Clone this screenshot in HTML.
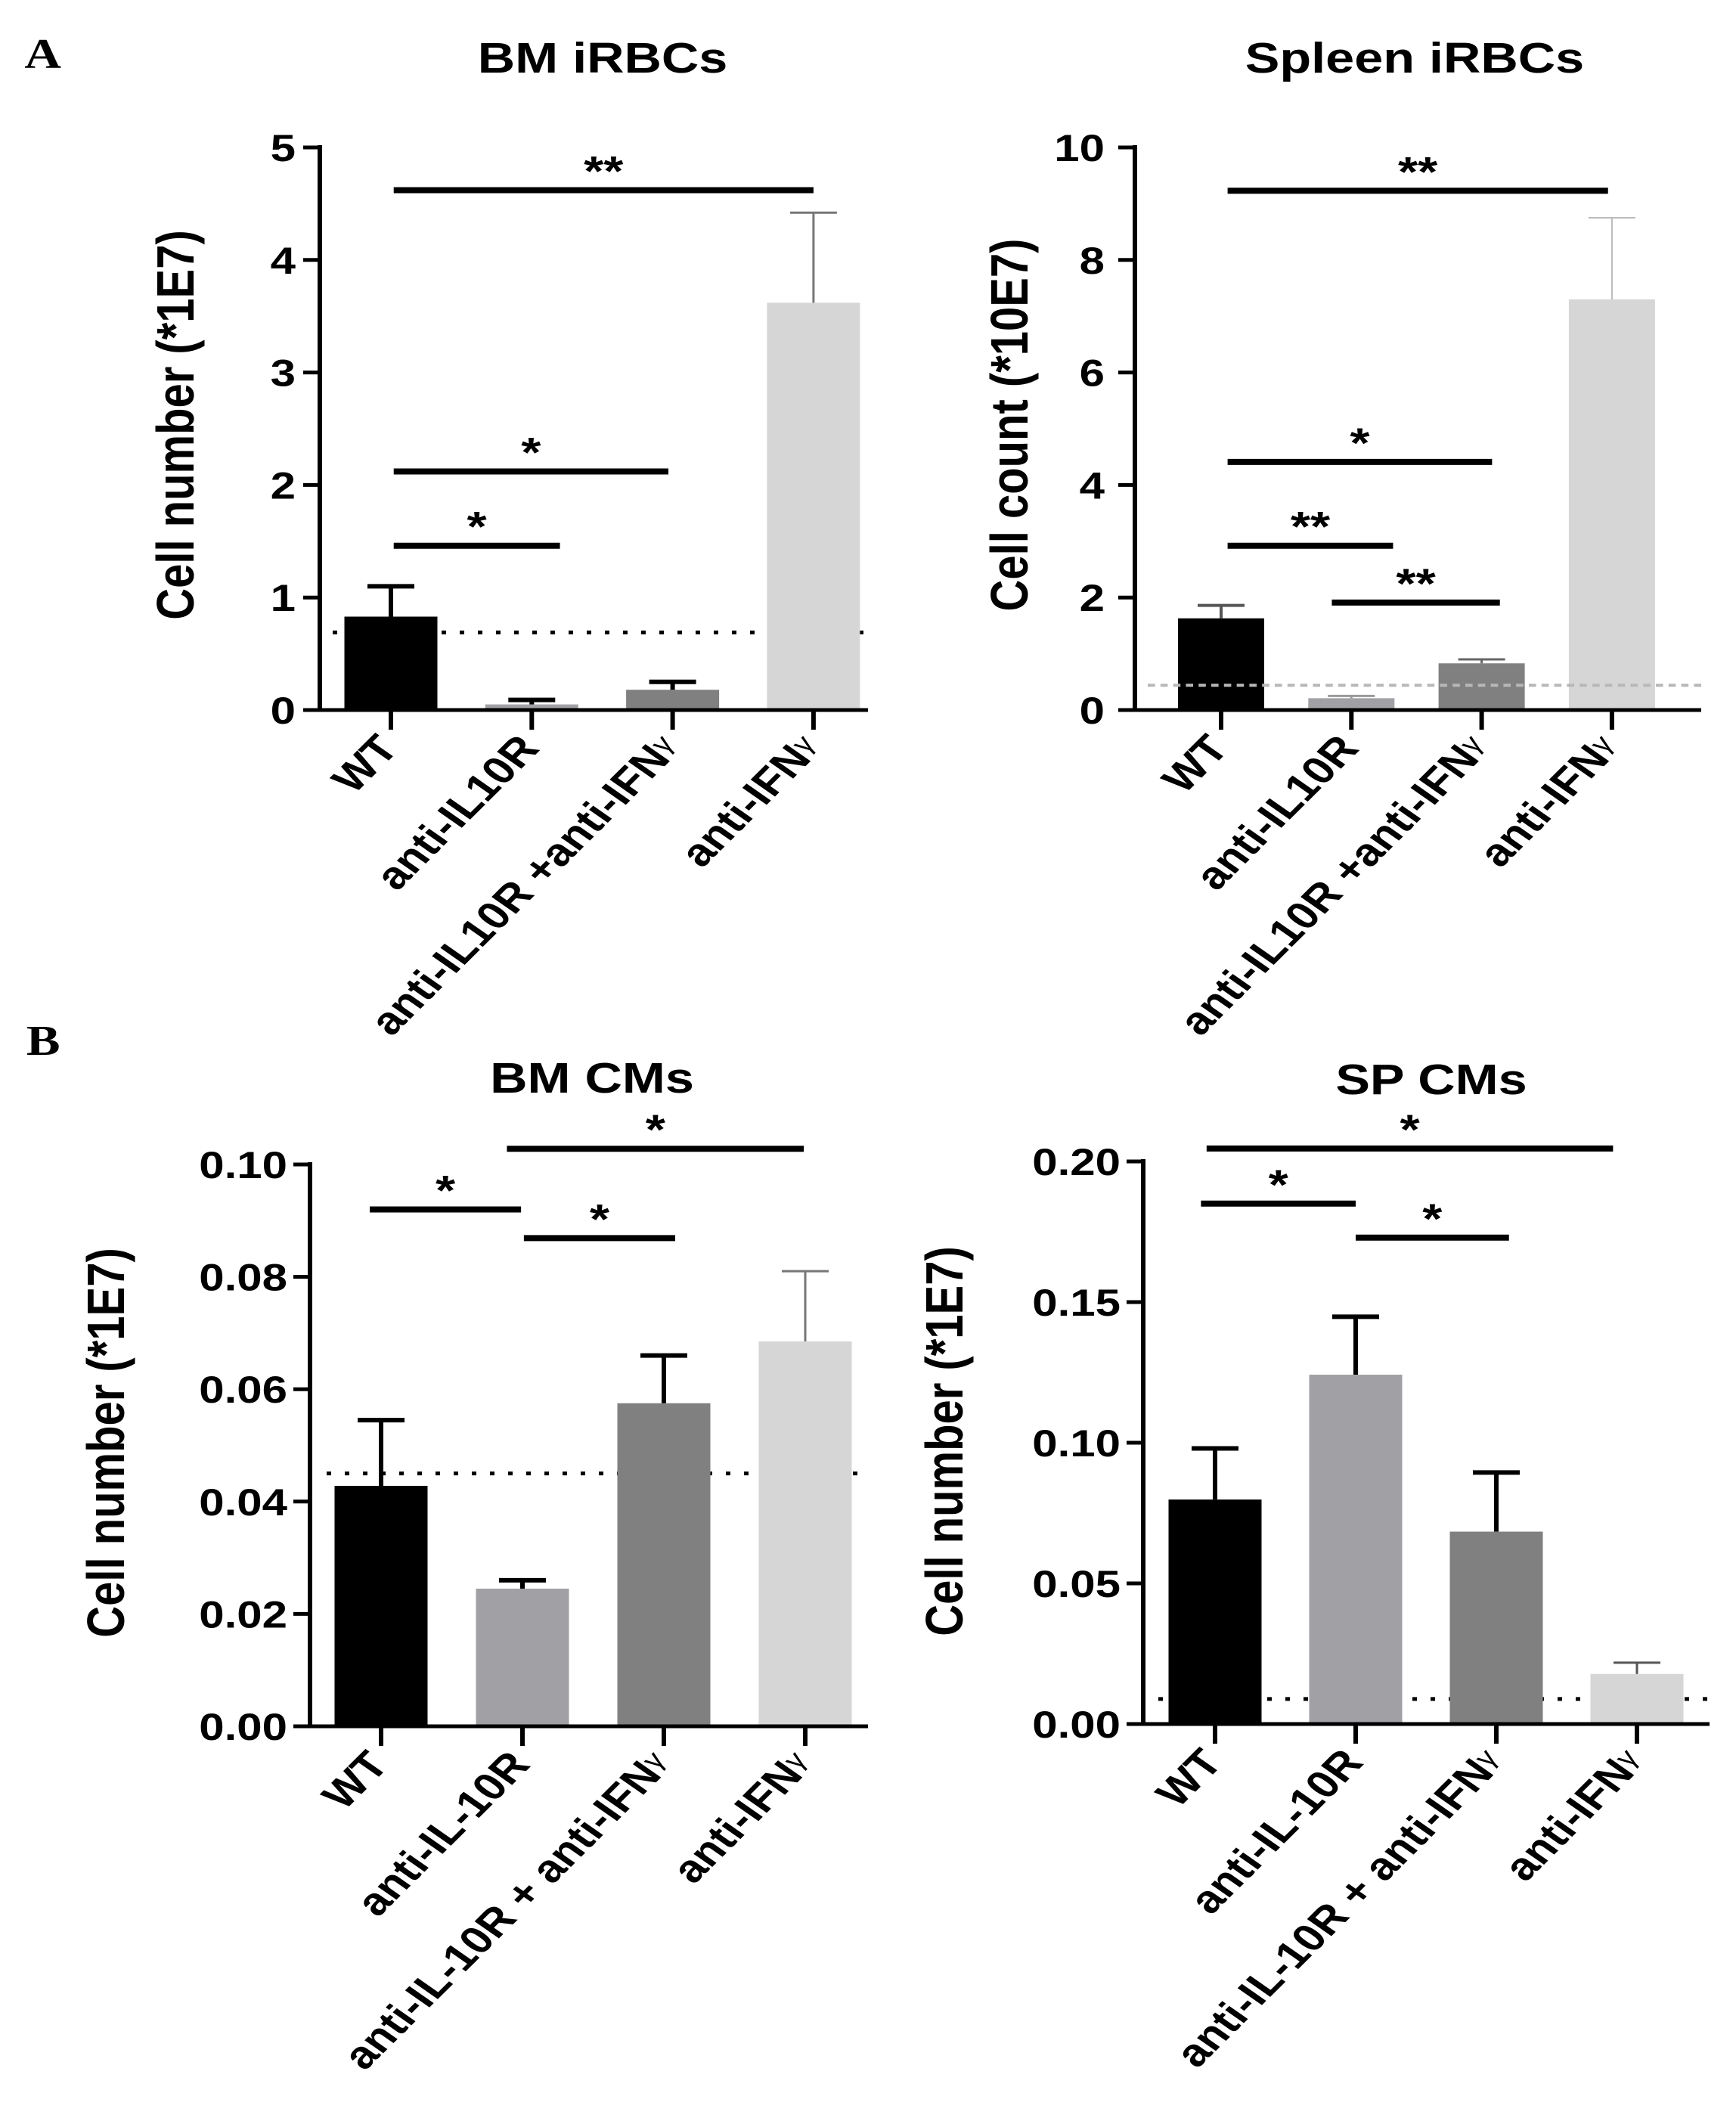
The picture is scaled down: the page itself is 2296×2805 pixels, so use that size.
<!DOCTYPE html>
<html><head><meta charset="utf-8"><style>
html,body{margin:0;padding:0;background:#fff;}
svg{display:block;}
text{font-family:"Liberation Sans",Arial,sans-serif;}
text.serif{font-family:"Liberation Serif","Times New Roman",serif;}
</style></head><body>
<svg id="fig" width="2296" height="2805" viewBox="0 0 1913.333 2805" preserveAspectRatio="none" xmlns="http://www.w3.org/2000/svg">
<text class="serif" x="27" y="90" font-weight="bold" font-size="56">A</text>
<text class="serif" x="29" y="1395" font-weight="bold" font-size="56">B</text>
</svg>
<script>
// ---- data (top level) ----
const catsA = ["WT","anti-IL10R","anti-IL10R +anti-IFN","anti-IFN"];
const gammaA = [false,false,true,true];
const catsB = ["WT","anti-IL-10R","anti-IL-10R + anti-IFN","anti-IFN"];
const gammaB = [false,false,true,true];

const bmIrbcMeans = [0.83, 0.05, 0.18, 3.62];
const bmIrbcUpper = [1.10, 0.09, 0.25, 4.42];
const bmIrbcTicks = [0,1,2,3,4,5];
const bmIrbcTickLabels = ["0","1","2","3","4","5"];
const bmIrbcThreshold = 0.69;
const bmIrbcSigFrom = [0.02, 0.02, 0.02];
const bmIrbcSigTo = [3.0, 1.97, 1.2];
const bmIrbcSigY = [4.62, 2.12, 1.46];
const bmIrbcSigLabel = ["**","*","*"];

const spIrbcMeans = [1.63, 0.21, 0.83, 7.30];
const spIrbcUpper = [1.86, 0.25, 0.90, 8.75];
const spIrbcTicks = [0,2,4,6,8,10];
const spIrbcTickLabels = ["0","2","4","6","8","10"];
const spIrbcThreshold = 0.44;
const spIrbcSigFrom = [0.05, 0.05, 0.05, 0.85];
const spIrbcSigTo = [2.97, 2.08, 1.32, 2.14];
const spIrbcSigY = [9.23, 4.41, 2.92, 1.91];
const spIrbcSigLabel = ["**","*","**","**"];

const bmCmMeans = [0.0428, 0.0245, 0.0575, 0.0685];
const bmCmUpper = [0.0545, 0.0260, 0.0660, 0.0810];
const bmCmTicks = [0,0.02,0.04,0.06,0.08,0.10];
const bmCmTickLabels = ["0.00","0.02","0.04","0.06","0.08","0.10"];
const bmCmThreshold = 0.045;
const bmCmSigFrom = [-0.08, 0.89, 1.01];
const bmCmSigTo = [0.99, 2.99, 2.08];
const bmCmSigY = [0.092, 0.1028, 0.0869];
const bmCmSigLabel = ["*","*","*"];

const spCmMeans = [0.0798, 0.1242, 0.0684, 0.0178];
const spCmUpper = [0.0980, 0.1448, 0.0894, 0.0218];
const spCmTicks = [0,0.05,0.10,0.15,0.20];
const spCmTickLabels = ["0.00","0.05","0.10","0.15","0.20"];
const spCmThreshold = 0.0089;
const spCmSigFrom = [-0.06, -0.1, 1.0];
const spCmSigTo = [2.83, 1.0, 2.09];
const spCmSigY = [0.2046, 0.185, 0.1729];
const spCmSigLabel = ["*","*","*"];

// ---- drawing ----
const S = 1.2;
const NS = "http://www.w3.org/2000/svg";
const svg = document.getElementById("fig");
function X(x){ return x / S; }
function mk(tag, attrs, parent){
  const e = document.createElementNS(NS, tag);
  for (const k in attrs) e.setAttribute(k, attrs[k]);
  (parent || svg).appendChild(e);
  return e;
}
const barColors = ["#000000","#a1a1a5","#808080","#d6d6d6"];

function chart(cfg){
  const g = mk("g", {});
  
  
  const ymap = v => cfg.y0 - (v / cfg.ymax) * (cfg.y0 - cfg.yTop);
  const xmap = i => cfg.c0 + i * cfg.dx;

  const t = mk("text", {x: X(cfg.titleX), y: cfg.titleY, "text-anchor":"middle", "font-size":57, "font-weight":"bold"}, g);
  t.textContent = cfg.title;
  
  

  const yt = mk("text", {x: 0, y: 0, "text-anchor":"middle", "font-size":58, "font-weight":"bold",
    transform: `translate(${X(cfg.ytX)},${cfg.ytY}) rotate(-90)`}, g);
  yt.textContent = cfg.ytitle;
  
  

  if (!cfg.thrOnTop) {
    const th = mk("line", {x1: X(cfg.thrX1), x2: X(cfg.xEnd), y1: ymap(cfg.thr), y2: ymap(cfg.thr),
      stroke: cfg.thrColor, "stroke-width": 5, "stroke-dasharray": cfg.thrDash}, g);
    
    
  }

  cfg.means.forEach((m, i) => {
    const cx = xmap(i);
    const r = mk("rect", {x: X(cx - cfg.barW/2), y: ymap(m), width: X(cfg.barW), height: cfg.y0 - ymap(m), fill: barColors[i]}, g);
    
    
    const ec = cfg.errColors[i], ew = cfg.errW[i];
    const ev = mk("line", {x1: X(cx), x2: X(cx), y1: ymap(m), y2: ymap(cfg.upper[i]), stroke: ec, "stroke-width": X(ew)}, g);
    
    
    const cap = mk("line", {x1: X(cx - 31), x2: X(cx + 31), y1: ymap(cfg.upper[i]), y2: ymap(cfg.upper[i]), stroke: ec, "stroke-width": ew}, g);
    
    
  });

  if (cfg.thrOnTop) {
    const th = mk("line", {x1: X(cfg.thrX1), x2: X(cfg.xEnd), y1: ymap(cfg.thr), y2: ymap(cfg.thr),
      stroke: cfg.thrColor, "stroke-width": 4, "stroke-dasharray": cfg.thrDash}, g);
    
    
  }

  const ya = mk("line", {x1: X(cfg.axisX), x2: X(cfg.axisX), y1: cfg.yTop - 3, y2: cfg.y0 + 2.5, stroke: "#000", "stroke-width": X(6)}, g);
  
  
  const xa = mk("line", {x1: X(cfg.axisX - 22), x2: X(cfg.xEnd), y1: cfg.y0, y2: cfg.y0, stroke: "#000", "stroke-width": 5}, g);
  
  

  cfg.ticks.forEach((v, i) => {
    const y = ymap(v);
    const tk = mk("line", {x1: X(cfg.axisX - 22), x2: X(cfg.axisX), y1: y, y2: y, stroke: "#000", "stroke-width": 5}, g);
    
    
    const tl = mk("text", {x: X(cfg.axisX - cfg.tickGap), y: y + 18, "text-anchor":"end", "font-size":50, "font-weight":"bold"}, g);
    tl.textContent = cfg.tickLabels[i];
    
    
  });

  cfg.cats.forEach((c, i) => {
    const cx = xmap(i);
    const tk = mk("line", {x1: X(cx), x2: X(cx), y1: cfg.y0, y2: cfg.y0 + 26, stroke: "#000", "stroke-width": X(6)}, g);
    
    
    const ax = X(cx + 12), ay = cfg.y0 + 52;
    const tl = mk("text", {x: 0, y: 0, "text-anchor":"end", "font-size":51, "font-weight":"bold",
      transform: `translate(${ax},${ay}) rotate(-50)`}, g);
    tl.appendChild(document.createTextNode(c));
    if (cfg.gamma[i]) {
      const ts = mk("tspan", {"font-size": 34, "font-weight": "normal", dy: -10}, tl);
      ts.textContent = "γ";
    }
    
    
  });

  cfg.sigY.forEach((v, i) => {
    const x1 = xmap(cfg.sigFrom[i]), x2 = xmap(cfg.sigTo[i]), y = ymap(v);
    const l = mk("line", {x1: X(x1), x2: X(x2), y1: y, y2: y, stroke: "#000", "stroke-width": 8}, g);
    
    
    const s = mk("text", {x: X((x1 + x2) / 2), y: y - 6, "text-anchor":"middle", "font-size":56, "font-weight":"bold"}, g);
    s.textContent = cfg.sigLabel[i];
    
    
  });
}

chart({name:"chart-bm-irbcs", title:"BM iRBCs", titleX:797, titleY:96, ytitle:"Cell number (*1E7)", ytX:256, ytY:562,
  axisX:423, y0:939, yTop:195, ymax:5, c0:517, dx:186.3, barW:123, xEnd:1148, tickGap:32,
  means:bmIrbcMeans, upper:bmIrbcUpper, ticks:bmIrbcTicks, tickLabels:bmIrbcTickLabels,
  thr:bmIrbcThreshold, thrX1:440, thrColor:"#000", thrDash:"5 15", thrOnTop:false,
  errColors:["#000","#000","#000","#777"], errW:[6,6,6,3],
  cats:catsA, gamma:gammaA,
  sigFrom:bmIrbcSigFrom, sigTo:bmIrbcSigTo, sigY:bmIrbcSigY, sigLabel:bmIrbcSigLabel});

chart({name:"chart-spleen-irbcs", title:"Spleen iRBCs", titleX:1871, titleY:96, ytitle:"Cell count (*10E7)", ytX:1359, ytY:562,
  axisX:1501, y0:939, yTop:195, ymax:10, c0:1615, dx:172.3, barW:114, xEnd:2250, tickGap:40,
  means:spIrbcMeans, upper:spIrbcUpper, ticks:spIrbcTicks, tickLabels:spIrbcTickLabels,
  thr:spIrbcThreshold, thrX1:1518, thrColor:"#b8b8b8", thrDash:"8 6", thrOnTop:true,
  errColors:["#555","#999","#666","#bbb"], errW:[4,3,3,2],
  cats:catsA, gamma:gammaA,
  sigFrom:spIrbcSigFrom, sigTo:spIrbcSigTo, sigY:spIrbcSigY, sigLabel:spIrbcSigLabel});

chart({name:"chart-bm-cms", title:"BM CMs", titleX:783, titleY:1445, ytitle:"Cell number (*1E7)", ytX:164, ytY:1908,
  axisX:410, y0:2283, yTop:1540, ymax:0.10, c0:504, dx:187, barW:123, xEnd:1148, tickGap:30,
  means:bmCmMeans, upper:bmCmUpper, ticks:bmCmTicks, tickLabels:bmCmTickLabels,
  thr:bmCmThreshold, thrX1:432, thrColor:"#000", thrDash:"5 15", thrOnTop:false,
  errColors:["#000","#000","#000","#777"], errW:[6,6,6,3],
  cats:catsB, gamma:gammaB,
  sigFrom:bmCmSigFrom, sigTo:bmCmSigTo, sigY:bmCmSigY, sigLabel:bmCmSigLabel});

chart({name:"chart-sp-cms", title:"SP CMs", titleX:1893, titleY:1447, ytitle:"Cell number (*1E7)", ytX:1273, ytY:1906,
  axisX:1512, y0:2280, yTop:1536, ymax:0.20, c0:1607, dx:186, barW:123, xEnd:2261, tickGap:30,
  means:spCmMeans, upper:spCmUpper, ticks:spCmTicks, tickLabels:spCmTickLabels,
  thr:spCmThreshold, thrX1:1532, thrColor:"#000", thrDash:"5 15", thrOnTop:false,
  errColors:["#000","#000","#000","#555"], errW:[6,6,6,3],
  cats:catsB, gamma:gammaB,
  sigFrom:spCmSigFrom, sigTo:spCmSigTo, sigY:spCmSigY, sigLabel:spCmSigLabel});
</script>
</body></html>
